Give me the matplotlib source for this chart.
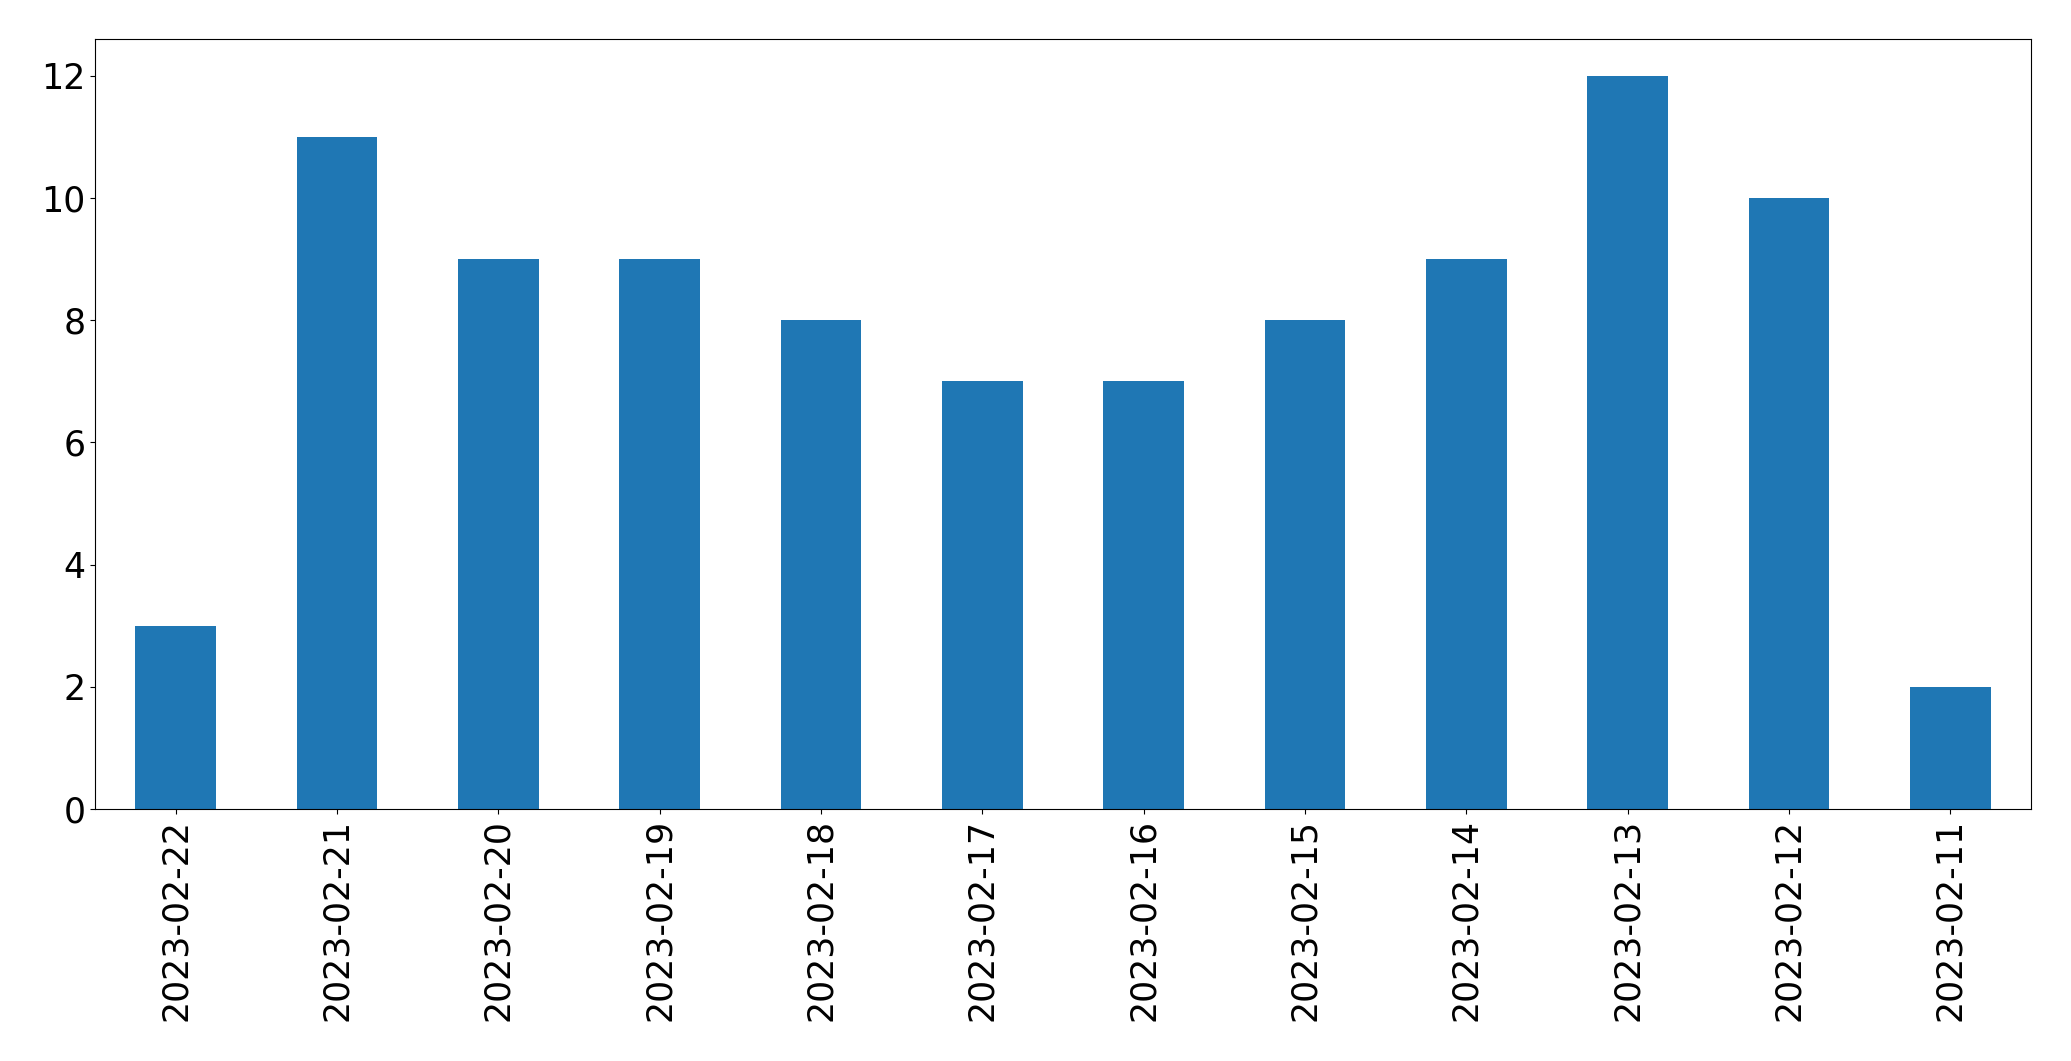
import pandas as pd
from matplotlib import pyplot as plt

dates = ['2023-02-22', '2023-02-21', '2023-02-20', '2023-02-19', '2023-02-18', '2023-02-17',
         '2023-02-16', '2023-02-15', '2023-02-14', '2023-02-13', '2023-02-12', '2023-02-11']
counts = [3, 11, 9, 9, 8, 7, 7, 8, 9, 12, 10, 2]

s = pd.Series(counts, index=dates)

fig = plt.figure(figsize=(20.71, 10.61), dpi=100)
ax = fig.add_axes([95 / 2071, 1 - 809 / 1061, (2031 - 95) / 2071, (809 - 39) / 1061])
s.plot(kind='bar', ax=ax, color='#1f77b4')
ax.tick_params(labelsize=25)
fig.savefig('out.png', dpi=100)
